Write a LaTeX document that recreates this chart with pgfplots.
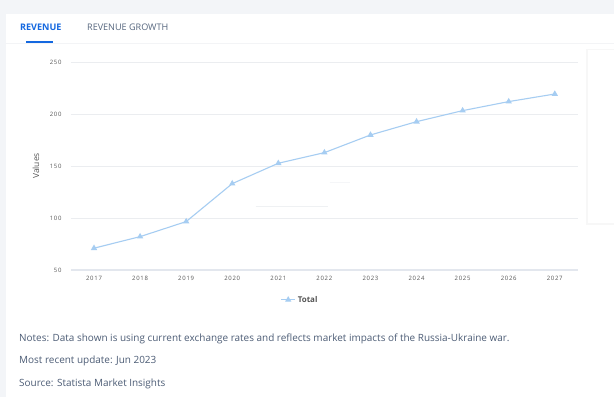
\documentclass[border=0pt]{standalone}
\usepackage{fontspec}
\setmainfont{Open Sans}
\usepackage{pgfplots}
\pgfplotsset{compat=1.18}
\definecolor{pagebg}{HTML}{F3F5F8}
\definecolor{tabblue}{HTML}{1468E0}
\definecolor{tabgray}{HTML}{56667E}
\definecolor{notecol}{HTML}{4D5D76}
\definecolor{gridcol}{HTML}{EBEDF0}
\definecolor{axiscol}{HTML}{E3E7EE}
\definecolor{linecol}{HTML}{A6CDF2}
\definecolor{tickcol}{HTML}{555555}
\begin{document}
\begin{tikzpicture}[x=1bp,y=1bp]
% background and card
\fill[pagebg] (0,0) rectangle (614,397);
\fill[white] (6,0) rectangle (614,383);
\draw[gridcol!60] (6,354) -- (614,354);
% tabs
\node[anchor=base west, font=\fontsize{9.1}{11}\selectfont\bfseries, text=tabblue, inner sep=0] at (20,366) {REVENUE};
\node[anchor=base west, font=\fontsize{9.1}{11}\selectfont, text=tabgray, inner sep=0] at (87,366) {REVENUE GROWTH};
\fill[tabblue] (26,354) rectangle (53,356);
% ghost card on the right
\fill[black!3] (586,172) rectangle (614,348);
\fill[white] (588,174) rectangle (614,347);
\begin{axis}[
  at={(71bp,127bp)}, anchor=south west,
  scale only axis, width=507bp, height=208bp,
  xmin=2016.5, xmax=2027.5, ymin=50, ymax=250,
  xtick={2017,...,2027}, ytick={50,100,...,250},
  xticklabel style={/pgf/number format/1000 sep={}},
  /pgf/number format/assume math mode=true,
  ticklabel style={font=\fontsize{6}{7}\selectfont\addfontfeature{LetterSpace=12}, text=tickcol},
  major tick length=0pt,
  axis line style={draw=none},
  ymajorgrids, grid style={gridcol, line width=0.8bp},
  yticklabel style={xshift=-6bp},
  xticklabel style={yshift=-3bp},
  ylabel={Values},
  ylabel style={font=\fontsize{8.5}{9}\selectfont, text=black!65, at={(axis description cs:-0.069,0.5)}, anchor=center, rotate=0},
  legend style={at={(0.452,-0.144)}, anchor=center, draw=none, fill=none,
    font=\fontsize{8}{9}\selectfont\bfseries, text=tickcol, inner sep=0pt},
  legend image code/.code={\draw[#1, mark repeat=2, mark phase=2] plot coordinates {(0bp,0bp) (7bp,0bp) (14bp,0bp)};},
  legend cell align=left,
  clip=false,
]
\draw[axiscol, line width=2.4bp] (axis cs:2016.5,50) -- (axis cs:2027.5,50);
\addplot[color=linecol, line width=1.1bp, mark=triangle*, mark size=2.6bp, mark options={fill=linecol, draw=linecol}]
  coordinates {(2017,70.9) (2018,82) (2019,96.5) (2020,133) (2021,152.6) (2022,162.8) (2023,179.8) (2024,192.6) (2025,203.2) (2026,211.9) (2027,219.2)};
\addlegendentry{Total}
\end{axis}
% faint artifacts
\draw[gridcol!80, line width=0.6bp] (256,191) -- (328,191);
\draw[gridcol!50, line width=0.6bp] (330,215) -- (350,215);
% notes
\node[anchor=base west, font=\fontsize{10}{12}\selectfont, text=notecol, inner sep=0] at (19,55) {Notes: Data shown is using current exchange rates and reflects market impacts of the Russia-Ukraine war.};
\node[anchor=base west, font=\fontsize{10}{12}\selectfont, text=notecol, inner sep=0] at (19,33) {Most recent update: Jun 2023};
\node[anchor=base west, font=\fontsize{10}{12}\selectfont, text=notecol, inner sep=0] at (19,10) {Source: Statista Market Insights};
\end{tikzpicture}
\end{document}
